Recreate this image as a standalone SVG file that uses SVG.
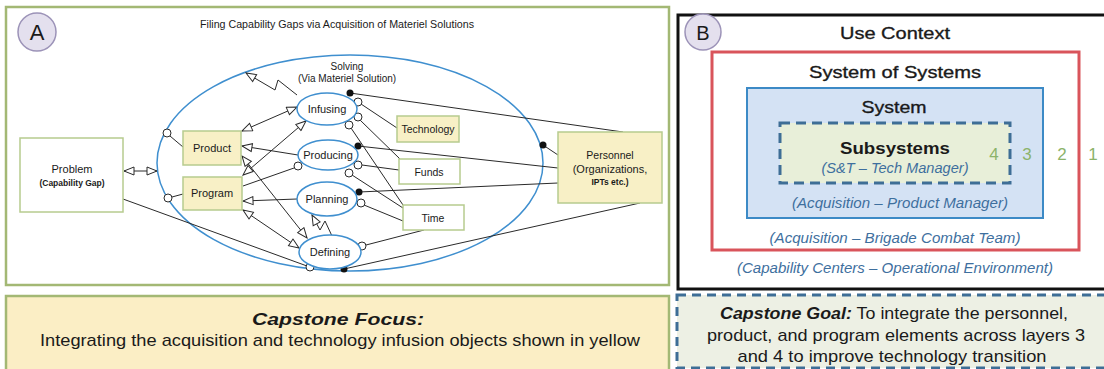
<svg xmlns="http://www.w3.org/2000/svg" width="1104" height="369" viewBox="0 0 1104 369">
  <style>
    .t { font-family: "Liberation Sans", Arial, sans-serif; fill: #1a1a1a; }
    .med { stroke: #1a1a1a; stroke-width: 0.35; }
    .ybox { fill: #f8f0c6; stroke: #b7cb8f; stroke-width: 1.5; }
    .wbox { fill: #ffffff; stroke: #b7cb8f; stroke-width: 1.5; }
    .oval { fill: #ffffff; stroke: #3f8fcf; stroke-width: 1.5; }
    .ln { fill: none; stroke: #2a2a2a; stroke-width: 1; }
    .oc { fill: #ffffff; stroke: #2a2a2a; stroke-width: 1; }
    .bc { fill: #111111; }
    .role { font-family: "Liberation Sans", Arial, sans-serif; font-style: italic; fill: #3e6f9e; font-size: 15px; }
    .lvl { font-family: "Liberation Sans", Arial, sans-serif; fill: #8cb36a; font-size: 17px; }
  </style>
  <defs>
    <marker id="tri" viewBox="0 0 12 10" refX="11" refY="5" markerWidth="12" markerHeight="10" markerUnits="userSpaceOnUse" orient="auto-start-reverse">
      <path d="M1,1 L11,5 L1,9 Z" fill="#ffffff" stroke="#2a2a2a" stroke-width="1"/>
    </marker>
  </defs>

  <rect width="1104" height="369" fill="#ffffff"/>

  <!-- Panel A frame -->
  <g id="panelA">
    <rect x="6" y="7" width="663" height="278" fill="#ffffff" stroke="#a3b874" stroke-width="2.5"/>
    <circle cx="37" cy="32" r="19" fill="#e4e0ee" stroke="#9c93b8" stroke-width="1.5"/>
    <text class="t" x="37" y="40" font-size="22" text-anchor="middle">A</text>
    <text class="t" x="337" y="28" font-size="10.5" text-anchor="middle" textLength="274" lengthAdjust="spacingAndGlyphs">Filing Capability Gaps via Acquisition of Materiel Solutions</text>
  </g>

  <!-- Solving (outer ellipse) -->
  <g id="solving">
    <ellipse cx="350" cy="163" rx="193" ry="108" fill="none" stroke="#3f8fcf" stroke-width="1.5"/>
    <text class="t" x="347" y="70" font-size="10" text-anchor="middle">Solving</text>
    <text class="t" x="347" y="82" font-size="10" text-anchor="middle">(Via Materiel Solution)</text>
  </g>

  <!-- Connectors -->
  <g id="connectors">
    <line class="ln" x1="124" y1="171" x2="157" y2="171" marker-start="url(#tri)" marker-end="url(#tri)"/>
    <line class="ln" x1="123" y1="199" x2="307" y2="266"/>
    <line class="ln" x1="170" y1="136" x2="183" y2="147"/>
    <line class="ln" x1="172" y1="197" x2="183" y2="194"/>
    <polyline class="ln" points="297,95 278,80 275,90 246,73" marker-end="url(#tri)"/>
    <polyline class="ln" points="332,236 325,221 320,230 312,215" marker-end="url(#tri)"/>
    <line class="ln" x1="242" y1="131" x2="297" y2="107" marker-start="url(#tri)" marker-end="url(#tri)"/>
    <line class="ln" x1="243" y1="175" x2="306" y2="121" marker-start="url(#tri)" marker-end="url(#tri)"/>
    <line class="ln" x1="298" y1="155" x2="242" y2="146" marker-end="url(#tri)"/>
    <line class="ln" x1="242" y1="156" x2="307" y2="238" marker-start="url(#tri)" marker-end="url(#tri)"/>
    <line class="ln" x1="243" y1="186" x2="294" y2="168"/>
    <line class="ln" x1="297" y1="199" x2="243" y2="201" marker-end="url(#tri)"/>
    <line class="ln" x1="243" y1="210" x2="299" y2="248" marker-start="url(#tri)" marker-end="url(#tri)"/>

    <line class="ln" x1="350" y1="93" x2="623" y2="132"/>
    <line class="ln" x1="361" y1="104" x2="397" y2="128"/>
    <line class="ln" x1="360" y1="120" x2="400" y2="159"/>
    <line class="ln" x1="351" y1="128" x2="403" y2="205"/>
    <line class="ln" x1="358" y1="146" x2="558" y2="168"/>
    <line class="ln" x1="362" y1="165" x2="399" y2="170"/>
    <line class="ln" x1="352" y1="175" x2="403" y2="208"/>
    <line class="ln" x1="359" y1="192" x2="558" y2="183"/>
    <line class="ln" x1="364" y1="205" x2="403" y2="221"/>
    <line class="ln" x1="366" y1="245" x2="424" y2="230"/>
    <line class="ln" x1="344" y1="269" x2="640" y2="203"/>
    <line class="ln" x1="543" y1="145" x2="558" y2="155"/>

    <!-- end dots -->
    <circle class="oc" cx="310" cy="267" r="4"/>
    <circle class="oc" cx="167" cy="133" r="4"/>
    <circle class="oc" cx="168" cy="198" r="4"/>
    <circle class="oc" cx="298" cy="166" r="4"/>
    <circle class="bc" cx="350" cy="93" r="3.5"/>
    <circle class="oc" cx="358" cy="102" r="4"/>
    <circle class="oc" cx="358" cy="117" r="4"/>
    <circle class="oc" cx="349" cy="125" r="4"/>
    <circle class="bc" cx="358" cy="146" r="3.5"/>
    <circle class="oc" cx="358" cy="165" r="4"/>
    <circle class="oc" cx="349" cy="173" r="4"/>
    <circle class="bc" cx="359" cy="192" r="3.5"/>
    <circle class="oc" cx="361" cy="203" r="4"/>
    <circle class="oc" cx="362" cy="246" r="4"/>
    <circle class="bc" cx="344" cy="269" r="3.5"/>
    <circle class="bc" cx="543" cy="145" r="3.5"/>
  </g>

  <!-- Panel A nodes -->
  <g id="problem">
    <rect class="wbox" x="20" y="138" width="103" height="74"/>
    <text class="t" x="72" y="173" font-size="11" text-anchor="middle">Problem</text>
    <text class="t" x="72" y="186" font-size="8.5" font-weight="bold" text-anchor="middle">(Capability Gap)</text>
  </g>
  <g id="product">
    <rect class="ybox" x="183" y="131" width="58" height="34"/>
    <text class="t" x="212" y="152" font-size="11" text-anchor="middle">Product</text>
  </g>
  <g id="program">
    <rect class="ybox" x="183" y="177" width="59" height="33"/>
    <text class="t" x="212" y="197" font-size="11" text-anchor="middle">Program</text>
  </g>
  <g id="infusing">
    <ellipse class="oval" cx="327" cy="109" rx="30" ry="16"/>
    <text class="t" x="327" y="113" font-size="11" text-anchor="middle">Infusing</text>
  </g>
  <g id="producing">
    <ellipse class="oval" cx="328" cy="155" rx="30" ry="15"/>
    <text class="t" x="328" y="159" font-size="11" text-anchor="middle">Producing</text>
  </g>
  <g id="planning">
    <ellipse class="oval" cx="327" cy="199" rx="30" ry="17"/>
    <text class="t" x="327" y="203" font-size="11" text-anchor="middle">Planning</text>
  </g>
  <g id="defining">
    <ellipse class="oval" cx="330" cy="252" rx="31" ry="17"/>
    <text class="t" x="330" y="256" font-size="11" text-anchor="middle">Defining</text>
  </g>
  <g id="technology">
    <rect class="ybox" x="397" y="116" width="62" height="26"/>
    <text class="t" x="428" y="133" font-size="10.5" text-anchor="middle">Technology</text>
  </g>
  <g id="funds">
    <rect class="wbox" x="399" y="159" width="61" height="25"/>
    <text class="t" x="429" y="176" font-size="10.5" text-anchor="middle">Funds</text>
  </g>
  <g id="time">
    <rect class="wbox" x="403" y="205" width="61" height="25"/>
    <text class="t" x="433" y="222" font-size="10.5" text-anchor="middle">Time</text>
  </g>
  <g id="personnel">
    <rect class="ybox" x="558" y="132" width="104" height="71"/>
    <text class="t" x="610" y="159" font-size="10.5" text-anchor="middle">Personnel</text>
    <text class="t" x="610" y="173" font-size="11" text-anchor="middle">(Organizations,</text>
    <text class="t" x="610" y="185" font-size="8.5" font-weight="bold" text-anchor="middle">IPTs etc.)</text>
  </g>

  <!-- Capstone focus -->
  <g id="capstoneFocus">
    <rect x="6" y="296" width="663" height="80" fill="#fbeec5" stroke="#a3b874" stroke-width="2.5"/>
    <text class="t" x="338" y="325" font-size="17" font-weight="bold" font-style="italic" text-anchor="middle" textLength="172" lengthAdjust="spacingAndGlyphs">Capstone Focus:</text>
    <text class="t" x="340" y="346" font-size="17" text-anchor="middle" textLength="600" lengthAdjust="spacingAndGlyphs">Integrating the acquisition and technology infusion objects shown in yellow</text>
  </g>

  <!-- Panel B: nested contexts -->
  <g id="useContext">
    <rect x="678" y="15" width="440" height="274" fill="#ffffff" stroke="#111111" stroke-width="3"/>
    <circle cx="703" cy="32" r="18" fill="#e4e0ee" stroke="#9c93b8" stroke-width="1.5"/>
    <text class="t" x="703" y="40" font-size="20" text-anchor="middle">B</text>
    <text class="t med" x="895" y="39" font-size="17" text-anchor="middle" textLength="110" lengthAdjust="spacingAndGlyphs">Use Context</text>
    <text class="role" x="895" y="273" text-anchor="middle" textLength="316" lengthAdjust="spacingAndGlyphs">(Capability Centers – Operational Environment)</text>
    <text class="lvl" x="1093" y="160" text-anchor="middle">1</text>
  </g>
  <g id="systemOfSystems">
    <rect x="712" y="52" width="367" height="198" fill="#ffffff" stroke="#d9545b" stroke-width="3"/>
    <text class="t med" x="895" y="78" font-size="17" text-anchor="middle" textLength="172" lengthAdjust="spacingAndGlyphs">System of Systems</text>
    <text class="role" x="895" y="243" text-anchor="middle" textLength="251" lengthAdjust="spacingAndGlyphs">(Acquisition – Brigade Combat Team)</text>
    <text class="lvl" x="1062" y="160" text-anchor="middle">2</text>
  </g>
  <g id="system">
    <rect x="747" y="88" width="296" height="130" fill="#d4e2f4" stroke="#3c8ac6" stroke-width="2"/>
    <text class="t med" x="894" y="113" font-size="17" text-anchor="middle" textLength="65" lengthAdjust="spacingAndGlyphs">System</text>
    <text class="role" x="900" y="208" text-anchor="middle" textLength="216" lengthAdjust="spacingAndGlyphs">(Acquisition – Product Manager)</text>
    <text class="lvl" x="1027" y="160" text-anchor="middle">3</text>
  </g>
  <g id="subsystems">
    <rect x="780" y="123" width="230" height="60" fill="#e8efd9" stroke="#3e6e96" stroke-width="3" stroke-dasharray="10,6"/>
    <text class="t" x="895" y="154" font-size="17" font-weight="bold" text-anchor="middle" textLength="110" lengthAdjust="spacingAndGlyphs">Subsystems</text>
    <text class="role" x="895" y="173" text-anchor="middle" textLength="147" lengthAdjust="spacingAndGlyphs">(S&amp;T – Tech Manager)</text>
    <text class="lvl" x="994" y="160" text-anchor="middle">4</text>
  </g>

  <!-- Capstone goal -->
  <g id="capstoneGoal">
    <rect x="677" y="295" width="440" height="73" fill="#edf0e4" stroke="#3e6e96" stroke-width="3" stroke-dasharray="9,6"/>
    <text class="t" x="894" y="319" font-size="17" text-anchor="middle" textLength="348" lengthAdjust="spacingAndGlyphs"><tspan font-weight="bold" font-style="italic">Capstone Goal:</tspan> To integrate the personnel,</text>
    <text class="t" x="896" y="341" font-size="17" text-anchor="middle" textLength="378" lengthAdjust="spacingAndGlyphs">product, and program elements across layers 3</text>
    <text class="t" x="892" y="362" font-size="17" text-anchor="middle" textLength="309" lengthAdjust="spacingAndGlyphs">and 4 to improve technology transition</text>
  </g>
</svg>
